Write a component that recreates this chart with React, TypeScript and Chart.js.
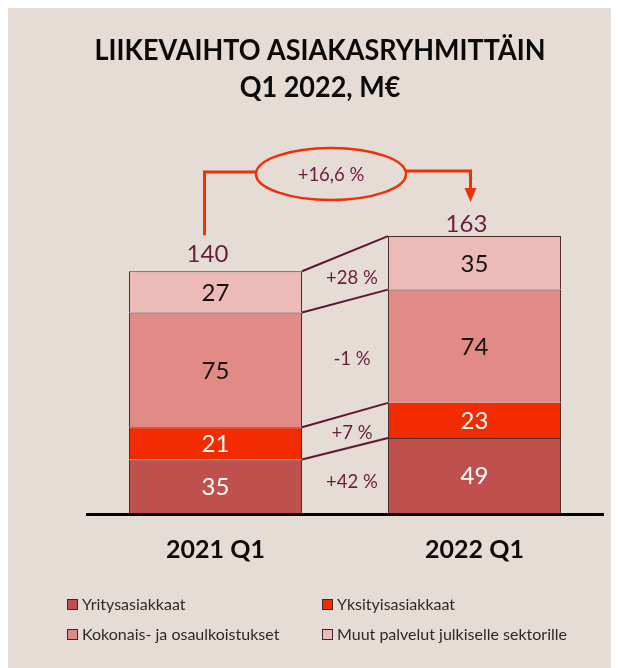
import React, { useEffect, useRef } from 'react';
import { Chart, registerables } from 'chart.js';

Chart.register(...registerables);

// ---- data ----
const categories = ['2021 Q1', '2022 Q1'];
const seriesNames = [
  'Yritysasiakkaat',
  'Yksityisasiakkaat',
  'Kokonais- ja osaulkoistukset',
  'Muut palvelut julkiselle sektorille',
];
const yritysasiakkaat = [35, 49];
const yksityisasiakkaat = [21, 23];
const ulkoistukset = [75, 74];
const muutPalvelut = [27, 35];
const totals = [140, 163];
const segmentChanges = ['+42 %', '+7 %', '-1 %', '+28 %'];
const totalChange = '+16,6 %';
const titleLines = ['LIIKEVAIHTO ASIAKASRYHMITTÄIN', 'Q1 2022, M€'];

// ---- style ----
const BG = '#E5DCD6';
const seriesColors = ['#C0504D', '#F22B00', '#E28B86', '#ECBBB8'];
const labelColors = ['#FFFFFF', '#FFFFFF', '#111111', '#111111'];
const MAROON = '#6B1C3E';
const ARROW = '#F0300A';
const BORDER = '#4A2E2E';
const FONT = 'Lato, "Noto Sans", sans-serif';

const decor = {
  id: 'decor',
  beforeDraw(chart: any) {
    const ctx = chart.ctx;
    ctx.save();
    ctx.fillStyle = BG;
    ctx.fillRect(0, 0, chart.width, chart.height);
    ctx.restore();
  },
  afterDatasetsDraw(chart: any) {
    const ctx = chart.ctx;
    const area = chart.chartArea;
    const metas = chart.data.datasets.map((_: any, i: number) => chart.getDatasetMeta(i));
    ctx.save();

    // Title
    ctx.fillStyle = '#0A0A0A';
    ctx.textAlign = 'center';
    ctx.textBaseline = 'alphabetic';
    ctx.font = `bold 28px ${FONT}`;
    const w1 = ctx.measureText(titleLines[0]).width;
    const sx = Math.min(1, 451 / w1);
    const tcx = 312;
    ctx.save();
    ctx.translate(tcx, 0);
    ctx.scale(sx, 1);
    ctx.fillText(titleLines[0], 0, 52);
    ctx.fillText(titleLines[1], 0, 89);
    ctx.restore();

    // axis line
    ctx.strokeStyle = '#000000';
    ctx.lineWidth = 3;
    ctx.beginPath();
    ctx.moveTo(area.left, area.bottom + 1.5);
    ctx.lineTo(area.right, area.bottom + 1.5);
    ctx.stroke();

    // segment labels
    ctx.font = `24px ${FONT}`;
    ctx.textAlign = 'center';
    ctx.textBaseline = 'middle';
    metas.forEach((meta: any, di: number) => {
      meta.data.forEach((el: any, i: number) => {
        const v = chart.data.datasets[di].data[i];
        ctx.fillStyle = labelColors[di];
        ctx.fillText(String(v), el.x, (el.y + el.base) / 2 + 1);
      });
    });

    // connector lines between bars and change labels
    ctx.strokeStyle = '#5E1535';
    ctx.lineWidth = 2;
    let prevMid = area.bottom;
    metas.forEach((meta: any, di: number) => {
      const a = meta.data[0];
      const b = meta.data[1];
      const xa = a.x + a.width / 2;
      const xb = b.x - b.width / 2;
      ctx.beginPath();
      ctx.moveTo(xa, a.y);
      ctx.lineTo(xb, b.y);
      ctx.stroke();
      const mid = (a.y + b.y) / 2;
      ctx.fillStyle = MAROON;
      ctx.font = `18.5px ${FONT}`;
      ctx.textAlign = 'center';
      ctx.textBaseline = 'middle';
      ctx.fillText(segmentChanges[di], (xa + xb) / 2 + 7, (prevMid + mid) / 2 + 1);
      prevMid = mid;
    });

    // totals
    const top = metas[metas.length - 1];
    const totalOffsets = [9, 4];
    ctx.fillStyle = MAROON;
    ctx.font = `24px ${FONT}`;
    ctx.textAlign = 'center';
    ctx.textBaseline = 'alphabetic';
    top.data.forEach((el: any, i: number) => {
      ctx.fillText(String(totals[i]), el.x - 8, el.y - totalOffsets[i]);
    });

    // x labels
    ctx.fillStyle = '#0A0A0A';
    ctx.font = `bold 25px ${FONT}`;
    metas[0].data.forEach((el: any, i: number) => {
      ctx.fillText(categories[i], el.x, 550);
    });

    // growth annotation
    const b0 = top.data[0];
    const b1 = top.data[1];
    const ex = 323, ey = 166, rx = 75, ry = 26;
    const lx = b0.x - 11;
    const rxp = b1.x - 4;
    ctx.strokeStyle = ARROW;
    ctx.lineWidth = 3;
    ctx.beginPath();
    ctx.moveTo(lx, b0.y - 36);
    ctx.lineTo(lx, ey - 2);
    ctx.lineTo(ex - rx, ey - 2);
    ctx.stroke();
    ctx.beginPath();
    ctx.moveTo(ex + rx, ey - 3);
    ctx.lineTo(rxp, ey - 3);
    ctx.lineTo(rxp, b1.y - 46);
    ctx.stroke();
    ctx.fillStyle = ARROW;
    ctx.beginPath();
    ctx.moveTo(rxp - 6, b1.y - 48);
    ctx.lineTo(rxp + 6, b1.y - 48);
    ctx.lineTo(rxp, b1.y - 34);
    ctx.closePath();
    ctx.fill();
    ctx.lineWidth = 2.5;
    ctx.beginPath();
    ctx.ellipse(ex, ey, rx, ry, 0, 0, Math.PI * 2);
    ctx.fillStyle = BG;
    ctx.fill();
    ctx.stroke();
    ctx.fillStyle = MAROON;
    ctx.font = `18.5px ${FONT}`;
    ctx.textAlign = 'center';
    ctx.textBaseline = 'middle';
    ctx.fillText(totalChange, ex, ey + 1);

    // legend
    const legendPos = [
      [59, 596],
      [314, 596],
      [59, 626],
      [314, 626],
    ];
    ctx.font = `16px ${FONT}`;
    ctx.textAlign = 'left';
    ctx.textBaseline = 'middle';
    seriesNames.forEach((name, i) => {
      const [x, y] = legendPos[i];
      ctx.fillStyle = seriesColors[i];
      ctx.fillRect(x, y - 5, 10, 10);
      ctx.strokeStyle = '#3A2A2A';
      ctx.lineWidth = 1;
      ctx.strokeRect(x + 0.5, y - 4.5, 10, 10);
      ctx.fillStyle = '#2A2A2A';
      ctx.fillText(name, x + 15, y + 1);
    });

    ctx.restore();
  },
};

export default function App() {
  const ref = useRef<HTMLCanvasElement | null>(null);
  useEffect(() => {
    if (!ref.current) return;
    const seriesData = [yritysasiakkaat, yksityisasiakkaat, ulkoistukset, muutPalvelut];
    const chart = new Chart(ref.current, {
      type: 'bar',
      data: {
        labels: categories,
        datasets: seriesNames.map((name, i) => ({
          label: name,
          data: seriesData[i],
          backgroundColor: seriesColors[i],
          borderColor: BORDER,
          borderWidth: 1,
          barPercentage: 0.668,
          categoryPercentage: 1,
        })),
      },
      options: {
        responsive: false,
        animation: false,
        devicePixelRatio: 1,
        layout: { padding: { left: 78, right: 15, top: 122.5, bottom: 155 } },
        scales: {
          x: { stacked: true, display: false },
          y: { stacked: true, display: false, min: 0, max: 250 },
        },
        plugins: {
          legend: { display: false },
          tooltip: { enabled: false },
          title: { display: false },
        },
      },
      plugins: [decor],
    });
    return () => chart.destroy();
  }, []);
  return (
    <canvas
      ref={ref}
      width={611}
      height={660}
      style={{ display: 'block', width: 611, height: 660 }}
    />
  );
}
